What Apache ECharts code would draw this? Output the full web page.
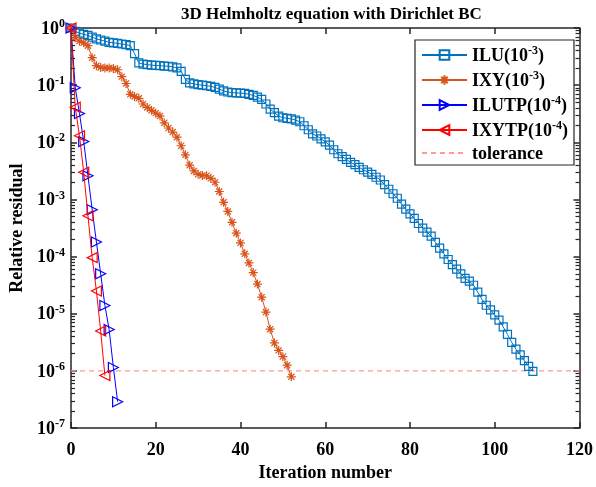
<!DOCTYPE html>
<html><head><meta charset="utf-8">
<script src="https://cdn.jsdelivr.net/npm/echarts@6/dist/echarts.min.js"></script>
<style>html,body{margin:0;padding:0;background:#fff}#c{width:596px;height:487px}</style>
</head><body><div id="c"></div>
<script>
const titleText = '3D Helmholtz equation with Dirichlet BC';
const xAxisTitle = 'Iteration number';
const yAxisTitle = 'Relative residual';
const xTicks = [0, 20, 40, 60, 80, 100, 120];
const yExponents = [-7, -6, -5, -4, -3, -2, -1, 0];
const seriesNames = ['ILU(10^-3)', 'IXY(10^-3)', 'ILUTP(10^-4)', 'IXYTP(10^-4)', 'tolerance'];

const iluResidual = [
  1, 0.871, 0.813, 0.776, 0.741, 0.692, 0.646, 0.617, 0.589, 0.562,
  0.550, 0.537, 0.525, 0.513, 0.490, 0.355, 0.245, 0.234, 0.229, 0.224,
  0.221, 0.219, 0.216, 0.214, 0.209, 0.200, 0.174, 0.126, 0.110, 0.105,
  0.102, 0.100, 0.0977, 0.0955, 0.0912, 0.0851, 0.0794, 0.0759, 0.0741, 0.0733,
  0.0724, 0.0716, 0.0692, 0.0661, 0.0617, 0.0562, 0.0468, 0.0380, 0.0331, 0.0288,
  0.0269, 0.0263, 0.0257, 0.0245, 0.0229, 0.0195, 0.0166, 0.0141, 0.0129, 0.0115,
  0.0102, 0.00891, 0.00741, 0.00631, 0.00562, 0.00501, 0.00447, 0.00407, 0.00363, 0.00331,
  0.00302, 0.00275, 0.00245, 0.00219, 0.00182, 0.00151, 0.00126, 0.00105, 8.32e-4, 6.76e-4,
  5.62e-4, 4.68e-4, 3.80e-4, 3.16e-4, 2.69e-4, 2.29e-4, 1.78e-4, 1.41e-4, 1.12e-4, 8.91e-5,
  7.24e-5, 6.03e-5, 5.01e-5, 4.17e-5, 3.72e-5, 3.16e-5, 2.40e-5, 1.78e-5, 1.41e-5, 1.17e-5,
  9.55e-6, 7.76e-6, 5.89e-6, 4.37e-6, 3.16e-6, 2.40e-6, 1.91e-6, 1.51e-6, 1.20e-6, 9.8e-7
];
const ixyResidual = [
  1, 0.676, 0.589, 0.550, 0.490, 0.302, 0.219, 0.204, 0.200, 0.199,
  0.195, 0.186, 0.141, 0.107, 0.0692, 0.0631, 0.0589, 0.0468, 0.0407, 0.0363,
  0.0324, 0.0288, 0.0219, 0.0178, 0.0151, 0.0123, 0.00871, 0.00603, 0.00398, 0.00316,
  0.00275, 0.00263, 0.00260, 0.00234, 0.00200, 0.00138, 8.91e-4, 6.17e-4, 3.98e-4, 2.57e-4,
  1.74e-4, 1.12e-4, 7.76e-5, 5.25e-5, 3.31e-5, 1.95e-5, 1.07e-5, 5.37e-6, 3.09e-6, 2.29e-6,
  1.78e-6, 1.26e-6, 7.9e-7
];
const ilutpResidual = [1, 0.090, 0.032, 0.0103, 0.0026, 6.6e-4, 1.8e-4, 5.0e-5, 1.4e-5, 5.3e-6, 1.15e-6, 2.9e-7];
const ixytpResidual = [1, 0.041, 0.013, 0.0030, 5.2e-4, 9.6e-5, 2.5e-5, 5.0e-6, 8.3e-7];
const toleranceLevel = 1e-6;
const toleranceSpan = [0, 120];

const FONT = 'Liberation Serif';
const AX = '#262626';
const colors = ['#0072BD', '#D95319', '#0000FF', '#FF0000', '#FF9A9A'];
const asterisk = 'path://M5,0L5,10M0,5L10,5M1.6,1.6L8.4,8.4M8.4,1.6L1.6,8.4';
const rightTri = 'path://M0,0L10,5L0,10Z';
const leftTri = 'path://M10,0L0,5L10,10Z';

const toPairs = arr => arr.map((v, i) => [i, v]);
const minorTickVals = [];
yExponents.slice(0, -1).forEach(e => { for (let m = 2; m <= 9; m++) minorTickVals.push(+(m * Math.pow(10, e)).toPrecision(6)); });

function mk(idx, data, symbol, size) {
  return {
    name: seriesNames[idx], type: 'line', data: toPairs(data),
    xAxisIndex: 0, yAxisIndex: 0,
    symbol: symbol, symbolSize: size, showAllSymbol: true,
    lineStyle: { color: colors[idx], width: 1 },
    itemStyle: { color: 'rgba(0,0,0,0)', borderColor: colors[idx], borderWidth: 1.2 },
    emphasis: { disabled: true }, animation: false, z: 2 + idx
  };
}
function ln(c, w) { return { color: c, width: w }; }

const chart = echarts.init(document.getElementById('c'), null, { renderer: 'canvas' });
const supRich = {
  b: { fontFamily: FONT, fontWeight: 'bold', fontSize: 18, color: '#000', lineHeight: 20, verticalAlign: 'bottom' },
  s: { fontFamily: FONT, fontWeight: 'bold', fontSize: 12, color: '#000', verticalAlign: 'top', lineHeight: 13 }
};
const legRich = {
  b: { fontFamily: FONT, fontWeight: 'bold', fontSize: 18, color: '#000', lineHeight: 20, verticalAlign: 'bottom' },
  s: { fontFamily: FONT, fontWeight: 'bold', fontSize: 12, color: '#000', verticalAlign: 'top', lineHeight: 12 }
};

function xAx(pos, extra) {
  return Object.assign({
    type: 'value', min: xTicks[0], max: xTicks[xTicks.length - 1], interval: 20, position: pos,
    axisLine: { show: true, onZero: false, lineStyle: ln(AX, 1.5) },
    axisTick: { show: true, inside: true, length: 6, lineStyle: ln(AX, 1.5) },
    axisLabel: { show: false }, splitLine: { show: false }
  }, extra || {});
}
function yLog(pos, extra) {
  return Object.assign({
    type: 'log', logBase: 10, min: Math.pow(10, yExponents[0]), max: Math.pow(10, yExponents[yExponents.length - 1]),
    interval: 1, position: pos,
    axisLine: { show: true, onZero: false, lineStyle: ln(AX, 1.5) },
    axisTick: { show: true, inside: true, length: 6, lineStyle: ln(AX, 1.5) },
    axisLabel: { show: false }, splitLine: { show: false }
  }, extra || {});
}
function yMinor(pos) {
  return {
    type: 'log', logBase: 10, min: Math.pow(10, yExponents[0]), max: Math.pow(10, yExponents[yExponents.length - 1]),
    position: pos,
    axisLine: { show: false, onZero: false },
    axisTick: { show: true, inside: true, length: 4, customValues: minorTickVals, lineStyle: ln(AX, 1.2) },
    axisLabel: { show: false }, splitLine: { show: false }
  };
}

const option = {
  animation: false,
  backgroundColor: '#fff',
  title: {
    text: titleText, left: 176, top: 1,
    textStyle: { fontFamily: FONT, fontWeight: 'bold', fontSize: 17, color: '#000' }
  },
  grid: { left: 71, right: 14, top: 28, bottom: 55 },
  legend: {
    orient: 'vertical', left: 415, top: 40,
    data: seriesNames,
    backgroundColor: '#fff', borderColor: AX, borderWidth: 1.2, borderRadius: 0,
    padding: [5, 6, 2, 6], itemGap: 5, itemWidth: 45, itemHeight: 12,
    textStyle: { rich: legRich },
    formatter: n => {
      const m = n.match(/^(.*)\^(-?\d+)(.*)$/);
      return m ? '{b|' + m[1] + '}{s|' + m[2] + '}{b|' + m[3] + '}' : '{b|' + n + '}';
    }
  },
  xAxis: [
    xAx('bottom', {
      name: xAxisTitle, nameLocation: 'middle', nameGap: 30,
      nameTextStyle: { fontFamily: FONT, fontWeight: 'bold', fontSize: 18, color: '#000' },
      axisLabel: { show: true, margin: 13, fontFamily: FONT, fontWeight: 'bold', fontSize: 18, color: '#000' }
    }),
    xAx('top')
  ],
  yAxis: [
    yLog('left', {
      name: yAxisTitle, nameLocation: 'middle', nameGap: 43, nameRotate: 90,
      nameTextStyle: { fontFamily: FONT, fontWeight: 'bold', fontSize: 18, color: '#000' },
      axisLabel: {
        show: true, margin: 6, rich: supRich,
        formatter: v => '{b|10}{s|' + Math.round(Math.log10(v)) + '}'
      }
    }),
    yLog('right'),
    yMinor('left'),
    yMinor('right')
  ],
  series: [
    mk(0, iluResidual, 'rect', 8),
    mk(1, ixyResidual, asterisk, 9),
    mk(2, ilutpResidual, rightTri, 10),
    mk(3, ixytpResidual, leftTri, 10),
    {
      name: seriesNames[4], type: 'line', xAxisIndex: 0, yAxisIndex: 0,
      data: toleranceSpan.map(x => [x, toleranceLevel]), symbol: 'circle', symbolSize: 0, showSymbol: false,
      lineStyle: { color: colors[4], width: 1.2, type: [5, 4] },
      itemStyle: { color: 'rgba(0,0,0,0)', borderWidth: 0 }, z: 1, animation: false
    }
  ]
};
chart.setOption(option);
</script>
</body></html>
